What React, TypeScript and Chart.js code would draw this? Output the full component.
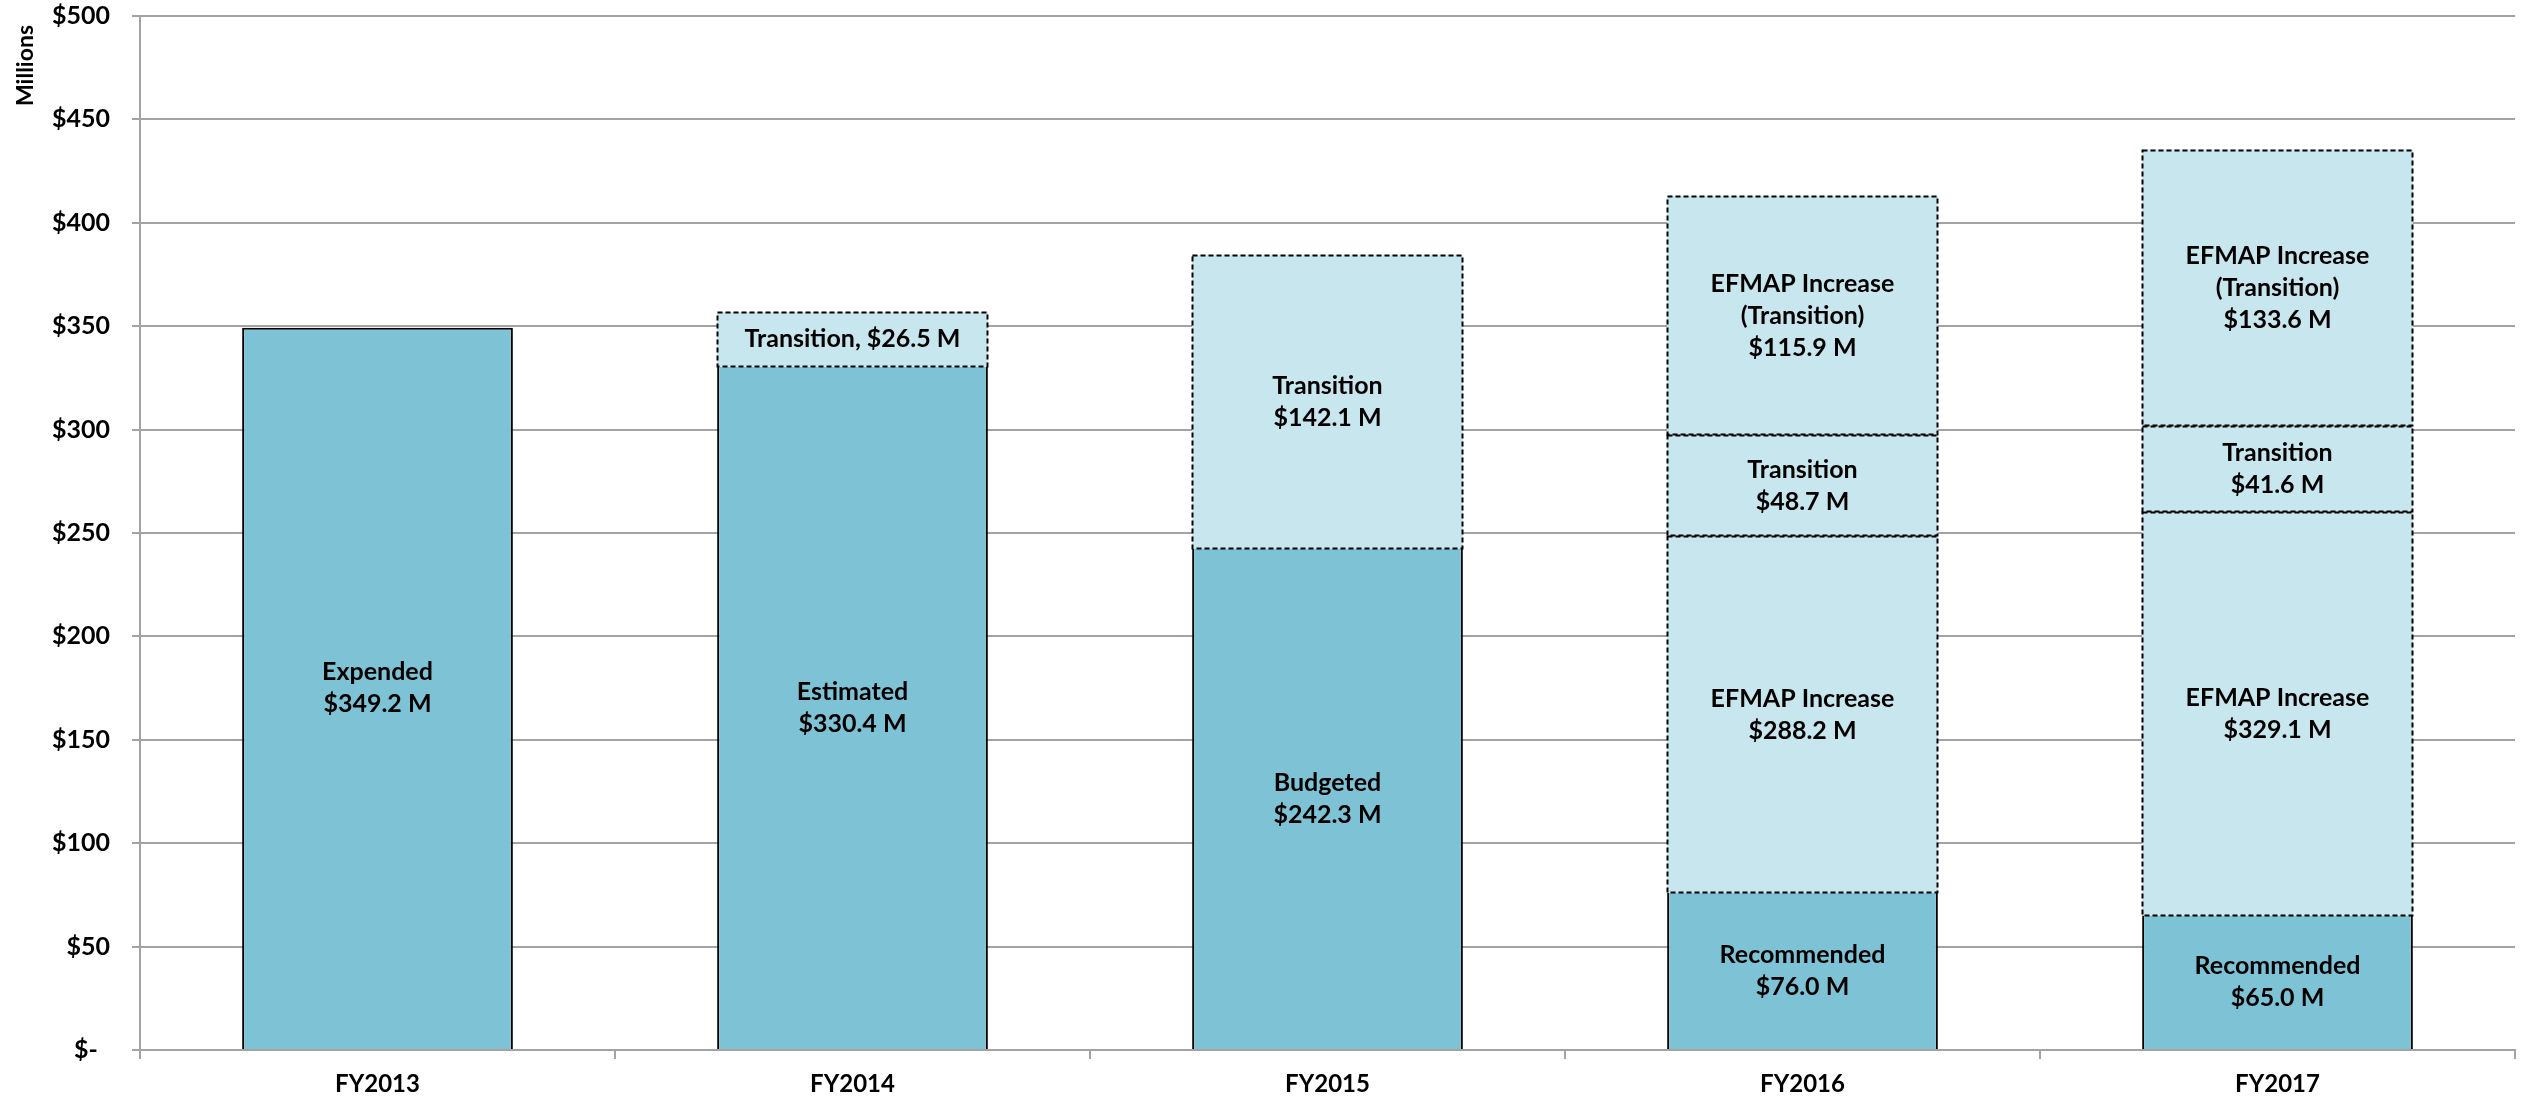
import React, { useEffect, useRef } from "react";
import { Chart, registerables } from "chart.js";

Chart.register(...registerables);

// Fiscal years on the category axis
const fiscalYears = ["FY2013", "FY2014", "FY2015", "FY2016", "FY2017"];

// Base funding per year (solid segment at the bottom of each bar)
const baseNames = ["Expended", "Estimated", "Budgeted", "Recommended", "Recommended"];
const baseAmounts = [349.2, 330.4, 242.3, 76.0, 65.0];

// EFMAP increase: height drawn in the stack, and the amount printed in its label
const efmapIncreaseAmounts: (number | null)[] = [null, null, null, 172.5, 195.2];
const efmapIncreaseStated: (number | null)[] = [null, null, null, 288.2, 329.1];

// Transition funding
const transitionAmounts: (number | null)[] = [null, 26.5, 142.1, 48.7, 41.6];

// EFMAP increase attributed to the transition
const efmapTransitionAmounts: (number | null)[] = [null, null, null, 115.9, 133.6];

// Value axis
const yMin = 0;
const yMax = 500;
const yStep = 50;
const yUnitLabel = "Millions";

const DARK = "#7EC3D5";
const LIGHT = "#C8E6EE";
const GRID = "#A3A3A3";
const FONT = "Lato, 'Liberation Sans', sans-serif";

const money = (v: number) => `$${v.toFixed(1)} M`;

function hasAbove(i: number) {
  return [efmapIncreaseAmounts, transitionAmounts, efmapTransitionAmounts].some(
    (arr) => arr[i] != null && (arr[i] as number) > 0
  );
}

// Text lines for each segment, by dataset index
function segmentLines(ds: number, i: number): string[] {
  if (ds === 0) return [baseNames[i], money(baseAmounts[i])];
  if (ds === 1) return ["EFMAP Increase", money(efmapIncreaseStated[i] as number)];
  if (ds === 2) return ["Transition", money(transitionAmounts[i] as number)];
  return ["EFMAP Increase", "(Transition)", money(efmapTransitionAmounts[i] as number)];
}

// Vertical unit caption beside the top of the value axis
const unitCaption = {
  id: "unitCaption",
  afterDraw(chart: any) {
    const ctx: CanvasRenderingContext2D = chart.ctx;
    const top = chart.chartArea.top;
    ctx.save();
    ctx.translate(26, top + 9);
    ctx.rotate(-Math.PI / 2);
    ctx.fillStyle = "#000000";
    ctx.font = `bold 23px ${FONT}`;
    ctx.textAlign = "right";
    ctx.textBaseline = "middle";
    ctx.fillText(yUnitLabel, 0, 0);
    ctx.restore();
  },
};

const dashedOutlineAndLabels = {
  id: "dashedOutlineAndLabels",
  afterDatasetsDraw(chart: any) {
    const ctx: CanvasRenderingContext2D = chart.ctx;
    // dashed outlines for the light segments
    ctx.save();
    ctx.strokeStyle = "#000000";
    ctx.lineWidth = 2;
    ctx.setLineDash([5, 3]);
    for (let d = 1; d < chart.data.datasets.length; d++) {
      const meta = chart.getDatasetMeta(d);
      const values = chart.data.datasets[d].data;
      meta.data.forEach((bar: any, i: number) => {
        const v = values[i];
        if (v == null || v <= 0) return;
        const { x, y, base, width } = bar.getProps(["x", "y", "base", "width"], true);
        const left = Math.round(x - width / 2) + 0.5;
        const right = Math.round(x + width / 2) - 0.5;
        const top = Math.round(y) + 0.5;
        const bottom = Math.round(base) - 0.5;
        ctx.beginPath();
        ctx.rect(left, top, right - left, bottom - top);
        ctx.stroke();
      });
    }
    ctx.restore();

    // segment labels
    ctx.save();
    ctx.fillStyle = "#000000";
    ctx.font = `bold 25px ${FONT}`;
    ctx.textAlign = "center";
    ctx.textBaseline = "middle";
    const lineGap = 32;
    for (let d = 0; d < chart.data.datasets.length; d++) {
      const meta = chart.getDatasetMeta(d);
      const values = chart.data.datasets[d].data;
      meta.data.forEach((bar: any, i: number) => {
        const v = values[i];
        if (v == null || v <= 0) return;
        const { x, y, base } = bar.getProps(["x", "y", "base"], true);
        let lines = segmentLines(d, i);
        const h = Math.abs(base - y);
        if (lines.length * lineGap > h) lines = [lines.join(", ")];
        const mid = (y + base) / 2;
        const start = mid - ((lines.length - 1) * lineGap) / 2;
        lines.forEach((t, k) => ctx.fillText(t, x, start + k * lineGap));
      });
    }
    ctx.restore();
  },
};

export default function App() {
  const canvasRef = useRef<HTMLCanvasElement | null>(null);

  useEffect(() => {
    if (!canvasRef.current) return;
    Chart.defaults.font.family = FONT;

    const common = {
      stack: "total",
      barPercentage: 0.57,
      categoryPercentage: 1,
    };

    const chart = new Chart(canvasRef.current, {
      type: "bar",
      data: {
        labels: fiscalYears,
        datasets: [
          {
            ...common,
            label: "Base",
            data: baseAmounts,
            backgroundColor: DARK,
            borderColor: "#000000",
            borderSkipped: false,
            borderWidth: (c: any) => ({
              left: 2,
              right: 2,
              bottom: 0,
              top: hasAbove(c.dataIndex) ? 0 : 2,
            }),
          },
          {
            ...common,
            label: "EFMAP Increase",
            data: efmapIncreaseAmounts,
            backgroundColor: LIGHT,
            borderWidth: 0,
          },
          {
            ...common,
            label: "Transition",
            data: transitionAmounts,
            backgroundColor: LIGHT,
            borderWidth: 0,
          },
          {
            ...common,
            label: "EFMAP Increase (Transition)",
            data: efmapTransitionAmounts,
            backgroundColor: LIGHT,
            borderWidth: 0,
          },
        ] as any,
      },
      options: {
        animation: false,
        responsive: true,
        maintainAspectRatio: false,
        layout: { padding: { left: 0, right: 17, top: 16, bottom: 0 } },
        plugins: {
          legend: { display: false },
          tooltip: { enabled: false },
        },
        scales: {
          x: {
            stacked: true,
            z: 1,
            afterFit: (s: any) => {
              s.height = 49;
            },
            grid: {
              offset: true,
              drawOnChartArea: false,
              drawTicks: true,
              tickLength: 9,
              color: GRID,
              lineWidth: 2,
            },
            border: { display: true, color: GRID, width: 2 },
            ticks: {
              color: "#000000",
              padding: 11,
              font: { size: 24, weight: "bold", family: FONT },
            },
          },
          y: {
            stacked: true,
            min: yMin,
            max: yMax,
            afterFit: (s: any) => {
              s.width = 140;
              s.paddingTop = 12;
              s.paddingBottom = 12;
            },
            grid: {
              color: GRID,
              lineWidth: 2,
              tickLength: 8,
            },
            border: { display: true, color: GRID, width: 2 },
            ticks: {
              stepSize: yStep,
              color: "#000000",
              padding: 22,
              font: { size: 25, weight: "bold", family: FONT },
              callback: (v: any) => (Number(v) === 0 ? "$-  " : `$${v}`),
            },
          },
        },
      } as any,
      plugins: [dashedOutlineAndLabels, unitCaption],
    });

    return () => chart.destroy();
  }, []);

  return (
    <div style={{ position: "fixed", left: 0, top: 0, width: 2532, height: 1099, background: "#ffffff" }}>
      <canvas ref={canvasRef} />
    </div>
  );
}
